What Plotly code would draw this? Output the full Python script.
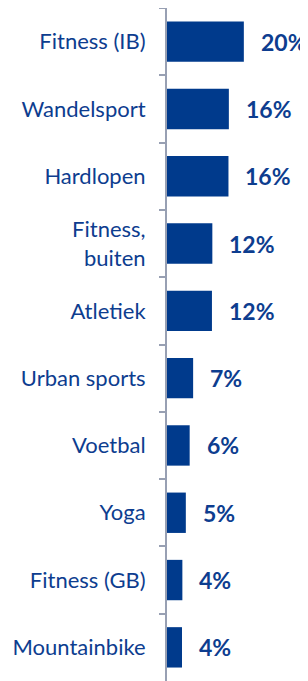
import plotly.graph_objects as go

categories = ["Fitness (IB)", "Wandelsport", "Hardlopen", "Fitness,<br>buiten", "Atletiek",
              "Urban sports", "Voetbal", "Yoga", "Fitness (GB)", "Mountainbike"]
values = [20.0, 16.1, 16.0, 11.8, 11.7, 6.8, 5.9, 4.9, 4.0, 3.9]
labels = ["20%", "16%", "16%", "12%", "12%", "7%", "6%", "5%", "4%", "4%"]

BAR = "#003a8c"
TXT = "#0d3d8f"
AX = "#98a0b3"

fig = go.Figure(go.Bar(
    x=values, y=categories, orientation="h",
    marker=dict(color=BAR, line=dict(width=0)),
    hoverinfo="skip",
))

for v, c, t in zip(values, categories, labels):
    fig.add_annotation(x=v, y=c, text="<b>" + t + "</b>", showarrow=False,
                       xanchor="left", yanchor="middle", xshift=15,
                       font=dict(family="Lato", size=23, color=TXT))

# page body has an 8px default margin, so the figure is sized to fit inside it
fig.update_layout(
    width=300, height=673,
    margin=dict(l=159, r=0, t=0, b=0, autoexpand=False),
    paper_bgcolor="white", plot_bgcolor="white",
    bargap=0.4, showlegend=False,
    xaxis=dict(range=[0, 36.7], visible=False, fixedrange=True, automargin=False),
    yaxis=dict(
        autorange="reversed", type="category", automargin=False,
        showline=True, linecolor=AX, linewidth=2,
        ticks="outside", tickson="boundaries", ticklen=6, tickcolor=AX, tickwidth=2,
        showgrid=False, ticklabelstandoff=15,
        tickfont=dict(family="Lato", size=22, color=TXT),
    ),
)

fig.write_html("out.html")
